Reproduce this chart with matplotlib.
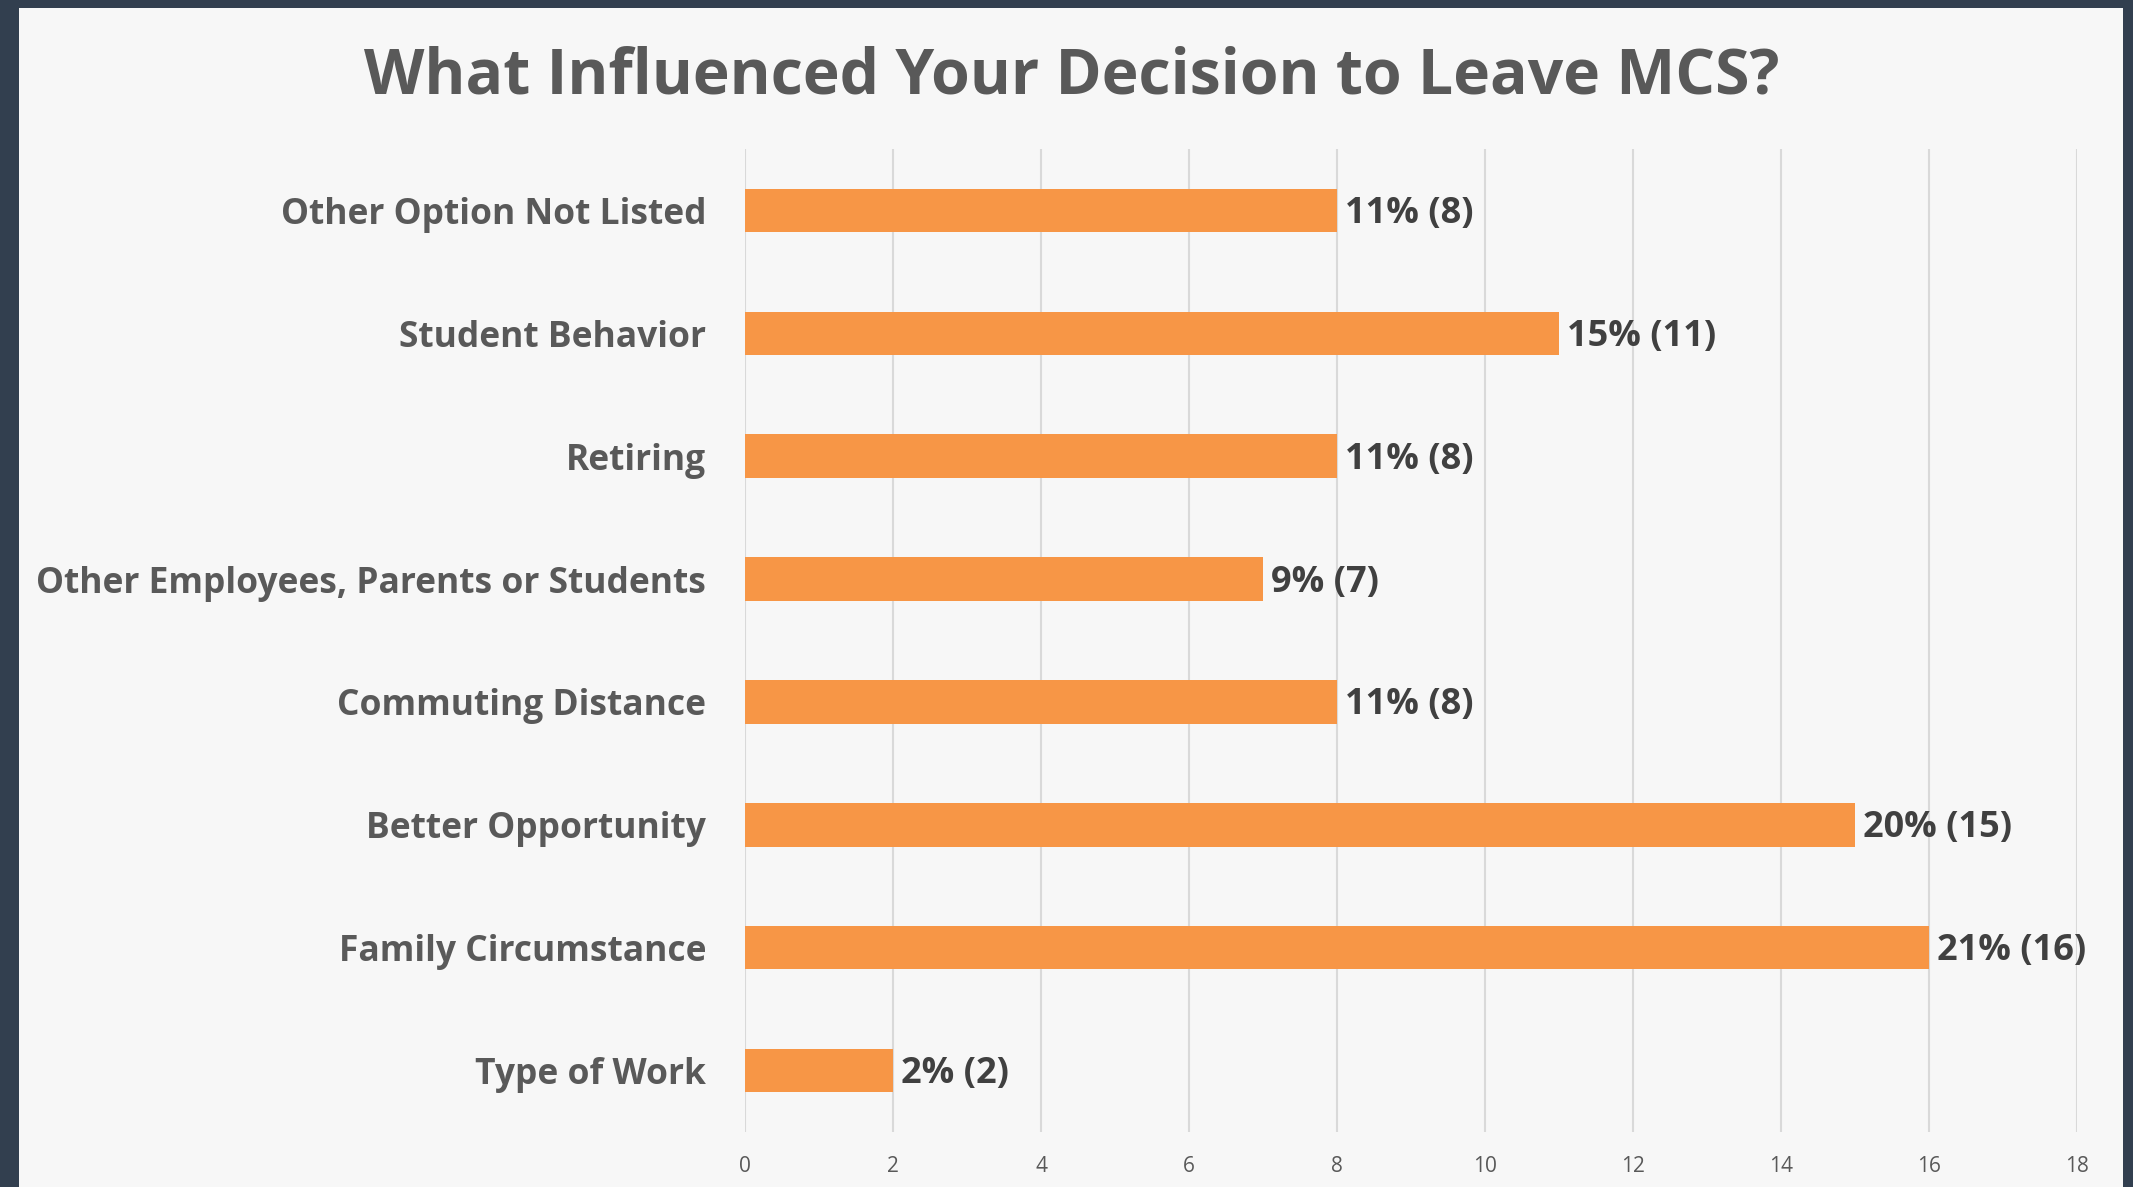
import matplotlib
matplotlib.use("Agg")
import matplotlib.pyplot as plt
from matplotlib.patches import Rectangle

categories = ["Other Option Not Listed", "Student Behavior", "Retiring",
              "Other Employees, Parents or Students", "Commuting Distance",
              "Better Opportunity", "Family Circumstance", "Type of Work"]
counts = [8, 11, 8, 7, 8, 15, 16, 2]
percents = [11, 15, 11, 9, 11, 20, 21, 2]
xticks = [0, 2, 4, 6, 8, 10, 12, 14, 16, 18]

W, H = 2133, 1187
fig = plt.figure(figsize=(W / 100, H / 100), dpi=100)
fig.patch.set_facecolor("#323F4F")
fig.patches.append(Rectangle((19 / W, 0), (2123 - 19) / W, 1 - 8 / H,
                             transform=fig.transFigure, facecolor="#F7F7F7",
                             edgecolor="none", zorder=-10))

ax = fig.add_axes([745 / W, 1 - 1132 / H, (2077 - 745) / W, (1132 - 149) / H])
ax.set_facecolor("none")
fam = ["Open Sans", "DejaVu Sans"]

y = list(range(len(categories)))
ax.barh(y, counts, height=0.354, color="#F79646", zorder=3)
ax.set_ylim(len(categories) - 0.5, -0.5)
ax.set_xlim(0, 18)
ax.set_xticks(xticks)
ax.set_xticklabels([str(t) for t in xticks], fontsize=15, color="#595959", family=fam)
ax.set_yticks(y)
ax.set_yticklabels(categories, fontsize=25.5, fontweight="bold", color="#595959", family=fam)
ax.tick_params(axis="x", length=0, pad=17)
ax.tick_params(axis="y", length=0, pad=28)
for s in ax.spines.values():
    s.set_visible(False)
ax.grid(axis="x", color="#D9D9D9", linewidth=1.5, zorder=0)
ax.set_axisbelow(True)

for yi, c, p in zip(y, counts, percents):
    ax.annotate(f"{p}% ({c})", xy=(c, yi), xytext=(6, -2.5), textcoords="offset points",
                ha="left", va="center", fontsize=26, fontweight="bold",
                color="#404040", family=fam)

fig.text(1072 / W, 1 - 77 / H, "What Influenced Your Decision to Leave MCS?",
         ha="center", va="center", fontsize=45, fontweight="bold",
         color="#595959", family=fam)

fig.savefig("out.png", dpi=100, facecolor=fig.get_facecolor())
